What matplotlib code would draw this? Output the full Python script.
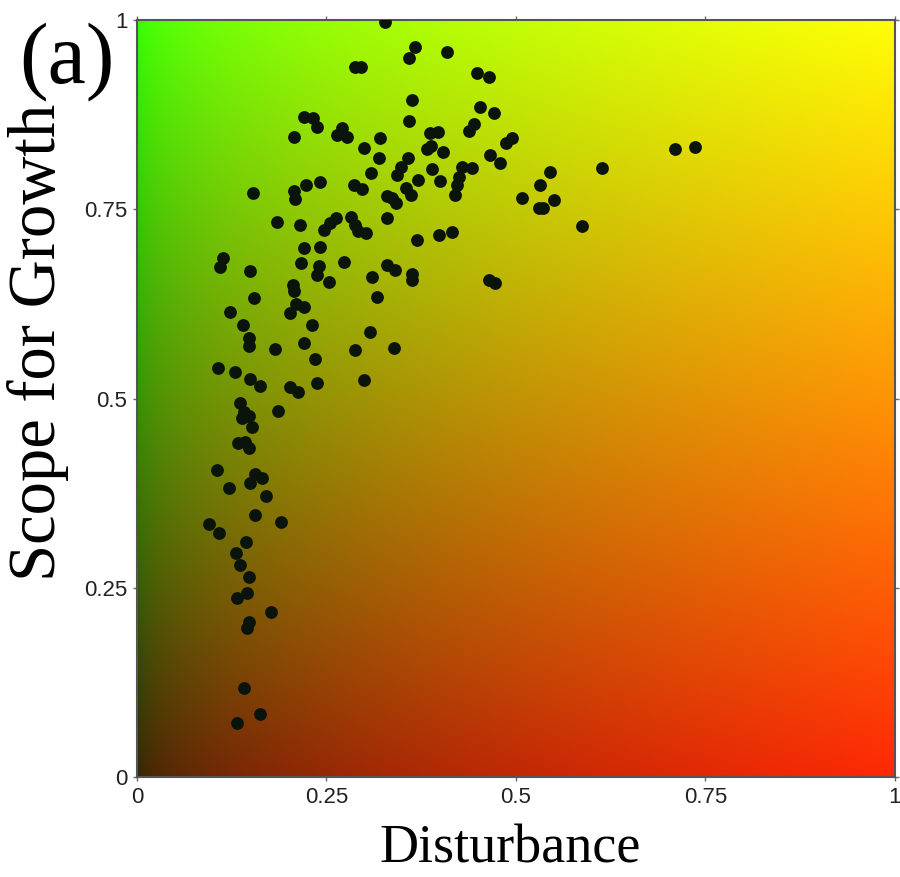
import numpy as np
import matplotlib
matplotlib.use("Agg")
import matplotlib.pyplot as plt

# one point per site: disturbance index vs scope-for-growth index
disturbance = [
    0.327, 0.367, 0.359, 0.409, 0.288, 0.296, 0.449, 0.464, 0.363, 0.359,
    0.452, 0.471, 0.220, 0.232, 0.237, 0.207, 0.264, 0.270, 0.277, 0.321,
    0.299, 0.319, 0.387, 0.397, 0.383, 0.388, 0.404, 0.438, 0.445, 0.487,
    0.495, 0.466, 0.479, 0.358, 0.348, 0.343, 0.309, 0.371, 0.389, 0.400,
    0.429, 0.442, 0.425, 0.422, 0.420, 0.508, 0.545, 0.532, 0.550, 0.530,
    0.536, 0.153, 0.207, 0.208, 0.223, 0.241, 0.286, 0.297, 0.330, 0.336,
    0.342, 0.355, 0.361, 0.185, 0.215, 0.247, 0.255, 0.263, 0.282, 0.288,
    0.292, 0.302, 0.330, 0.369, 0.398, 0.416, 0.710, 0.736, 0.613, 0.587,
    0.220, 0.241, 0.113, 0.109, 0.149, 0.216, 0.240, 0.237, 0.253, 0.273,
    0.330, 0.340, 0.310, 0.363, 0.363, 0.464, 0.472, 0.206, 0.207, 0.154,
    0.317, 0.123, 0.210, 0.220, 0.202, 0.140, 0.231, 0.307, 0.148, 0.148,
    0.182, 0.220, 0.288, 0.339, 0.235, 0.107, 0.129, 0.149, 0.162, 0.202,
    0.212, 0.237, 0.299, 0.136, 0.141, 0.148, 0.139, 0.152, 0.186, 0.133,
    0.142, 0.148, 0.106, 0.156, 0.165, 0.149, 0.121, 0.170, 0.156, 0.190,
    0.095, 0.108, 0.144, 0.131, 0.136, 0.148, 0.132, 0.145, 0.177, 0.148,
    0.145, 0.141, 0.162, 0.132,
]
scope_growth = [
    0.997, 0.964, 0.950, 0.958, 0.938, 0.938, 0.930, 0.925, 0.894, 0.867,
    0.885, 0.877, 0.872, 0.871, 0.859, 0.845, 0.848, 0.857, 0.845, 0.844,
    0.831, 0.818, 0.851, 0.852, 0.830, 0.834, 0.826, 0.853, 0.863, 0.838,
    0.844, 0.822, 0.811, 0.818, 0.806, 0.795, 0.798, 0.789, 0.803, 0.787,
    0.806, 0.804, 0.793, 0.782, 0.769, 0.765, 0.799, 0.782, 0.762, 0.752,
    0.752, 0.771, 0.774, 0.764, 0.782, 0.786, 0.782, 0.777, 0.768, 0.765,
    0.758, 0.778, 0.769, 0.733, 0.729, 0.723, 0.732, 0.738, 0.740, 0.729,
    0.721, 0.719, 0.738, 0.709, 0.716, 0.720, 0.830, 0.832, 0.804, 0.728,
    0.699, 0.700, 0.686, 0.674, 0.668, 0.679, 0.675, 0.663, 0.654, 0.680,
    0.676, 0.670, 0.661, 0.664, 0.657, 0.657, 0.653, 0.650, 0.642, 0.633,
    0.634, 0.614, 0.625, 0.621, 0.613, 0.597, 0.597, 0.588, 0.580, 0.569,
    0.565, 0.573, 0.564, 0.567, 0.552, 0.540, 0.535, 0.526, 0.517, 0.515,
    0.509, 0.520, 0.524, 0.494, 0.482, 0.477, 0.474, 0.462, 0.483, 0.441,
    0.443, 0.435, 0.406, 0.400, 0.395, 0.388, 0.382, 0.371, 0.346, 0.337,
    0.334, 0.322, 0.310, 0.296, 0.280, 0.264, 0.236, 0.243, 0.218, 0.205,
    0.197, 0.118, 0.083, 0.071,
]

ticks = [0, 0.25, 0.5, 0.75, 1]
tick_labels = ["0", "0.25", "0.5", "0.75", "1"]

fig = plt.figure(figsize=(9, 8.77), dpi=100)
ax = fig.add_axes([0.1522, 0.114, 0.8422, 0.8632])

# background: red grows with disturbance, green with scope for growth
xx, yy = np.meshgrid(np.linspace(0, 1, 400), np.linspace(0, 1, 400))
red = 45 + 210 * xx ** 0.5
green = 40 + 215 * yy
blue = np.full_like(xx, 5)
bg = np.clip(np.dstack([red, green, blue]) / 255, 0, 1)
ax.imshow(bg, extent=[0, 1, 0, 1], origin="lower", aspect="auto",
          interpolation="bilinear", zorder=0)

ax.scatter(disturbance, scope_growth, s=85, color="#0a140a", linewidths=0, zorder=3)

ax.set_xlim(0, 1)
ax.set_ylim(0, 1)
ax.set_xticks(ticks)
ax.set_xticklabels(tick_labels)
ax.set_yticks(ticks)
ax.set_yticklabels(tick_labels)
ax.tick_params(direction="out", length=3, width=1, color="#666666",
               top=True, right=True, labelsize=16, pad=4)
for lab in ax.get_xticklabels() + ax.get_yticklabels():
    lab.set_family("Liberation Sans")
    lab.set_color("#222222")
for sp in ax.spines.values():
    sp.set_color("#555555")
    sp.set_linewidth(1.5)

ax.set_xlabel("Disturbance", family="Liberation Serif", fontsize=39, va="center")
ax.xaxis.set_label_coords(0.492, -0.096)
ax.set_ylabel("Scope for Growth", family="Liberation Serif", fontsize=48, va="center")
ax.yaxis.set_label_coords(-0.13, 0.574)

fig.text(67 / 900, 1 - 62 / 877, "(a)", family="Liberation Serif", fontsize=62,
         ha="center", va="center")

fig.savefig("out.png", dpi=100)
